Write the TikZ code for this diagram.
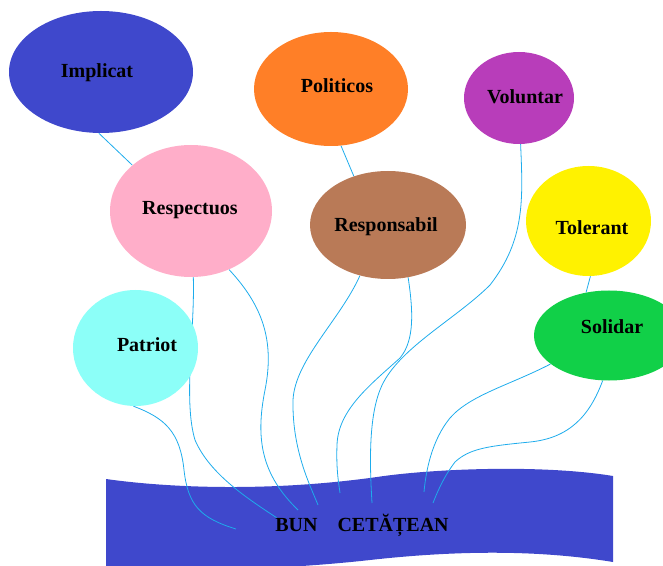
\documentclass[tikz,border=0pt]{standalone}
\usepackage{fontspec}
\setmainfont{Liberation Serif}
\usetikzlibrary{shapes.geometric,backgrounds}

\definecolor{implblue}{RGB}{63,72,204}
\definecolor{politorange}{RGB}{255,127,39}
\definecolor{volunpurple}{RGB}{184,61,186}
\definecolor{resppink}{RGB}{255,174,201}
\definecolor{responsbrown}{RGB}{185,122,87}
\definecolor{toleryellow}{RGB}{255,242,0}
\definecolor{patrcyan}{RGB}{140,255,248}
\definecolor{solidgreen}{RGB}{17,208,72}
\definecolor{linkblue}{RGB}{30,172,236}

\tikzset{
  bubble/.style={ellipse, inner sep=0pt, draw=none},
  word/.style={font=\fontsize{15}{18}\selectfont\bfseries, text height=10.5pt, text depth=0pt, inner sep=0pt},
  link/.style={linkblue, line width=0.6pt}
}

\begin{document}
\begin{tikzpicture}[x=0.75pt, y=-0.75pt]
            \useasboundingbox (0,0) rectangle (663,566);

            \node[bubble, fill=implblue, minimum width=138pt, minimum height=91.5pt] (impl) at (101,72) {};
            \node[bubble, fill=politorange, minimum width=115.5pt, minimum height=85.5pt] (polit) at (331,89) {};
            \node[bubble, fill=volunpurple, minimum width=82.5pt, minimum height=69pt] (volun) at (519,98) {};
            \node[bubble, fill=resppink, minimum width=121.5pt, minimum height=99pt] (resp) at (191,211) {};
            \node[bubble, fill=responsbrown, minimum width=117pt, minimum height=81pt] (respons) at (388,225) {};
            \node[bubble, fill=toleryellow, minimum width=93.75pt, minimum height=82.5pt] (toler) at (588.5,221) {};
            \node[bubble, fill=patrcyan, minimum width=93.75pt, minimum height=87pt] (patr) at (135.5,348) {};
            \node[bubble, fill=solidgreen, minimum width=112.5pt, minimum height=67.5pt] (solid) at (609,335.5) {};

            \node[word] (impltext) at (97,71) {Implicat};
            \node[word] (polittext) at (337,86) {Politicos};
            \node[word] (voluntext) at (525,97) {Voluntar};
            \node[word] (resptext) at (190,208) {Respectuos};
            \node[word] (responstext) at (386,225) {Responsabil};
            \node[word] (tolertext) at (592,228) {Tolerant};
            \node[word] (patrtext) at (147,344) {Patriot};
            \node[word] (solidtext) at (612,326) {Solidar};

    \begin{pgfonlayer}{background}
            \fill[implblue] (106,479) .. controls (170,488) and (270,492) .. (377,477)
                .. controls (430,469) and (540,464) .. (613,476) -- (613,562)
                .. controls (540,550) and (460,550) .. (370,560)
                .. controls (280,570) and (180,572) .. (106,570) -- cycle;

            \coordinate (bunA) at (236,529);
            \coordinate (bunB) at (277,518);
            \coordinate (bunC) at (298,510);
            \coordinate (bunD) at (318,505);
            \coordinate (bunE) at (340,493);
            \coordinate (bunF) at (372,503);
            \coordinate (bunG) at (424,492);
            \coordinate (bunH) at (433,503);

            \draw[link] (impl.-92) -- (resp.142);
            \draw[link] (polit.-80) -- (respons.125);
            \draw[link] (toler.-88) -- (solid.118);

            \draw[link] (resp.-88) .. controls (195,330) and (183,400) .. (195,440)
                .. controls (210,475) and (250,500) .. (bunB);
            \draw[link] (patr.-92) .. controls (165,418) and (180,432) .. (184,470)
                .. controls (188,505) and (200,518) .. (bunA);
            \draw[link] (resp.-57) .. controls (262,305) and (275,340) .. (265,390)
                .. controls (255,440) and (262,475) .. (bunC);
            \draw[link] (respons.-119) .. controls (340,320) and (295,360) .. (293,400)
                .. controls (292,450) and (310,485) .. (bunD);
            \draw[link] (respons.-69) .. controls (413,310) and (415,340) .. (400,358)
                .. controls (370,385) and (338,410) .. (337,445)
                .. controls (336,470) and (339,485) .. (bunE);
            \draw[link] (volun.-88) .. controls (523,200) and (525,240) .. (490,285)
                .. controls (455,320) and (395,350) .. (380,390)
                .. controls (368,420) and (370,470) .. (bunF);
            \draw[link] (solid.-154) .. controls (510,385) and (470,395) .. (450,418)
                .. controls (432,440) and (426,470) .. (bunG);
            \draw[link] (solid.-98) .. controls (590,415) and (570,438) .. (530,442)
                .. controls (490,446) and (470,448) .. (455,462)
                .. controls (445,475) and (438,490) .. (bunH);
    \end{pgfonlayer}

            \node[word] (bun) at (362,524) {BUN\quad CETĂȚEAN};
        \end{tikzpicture}
\end{document}
